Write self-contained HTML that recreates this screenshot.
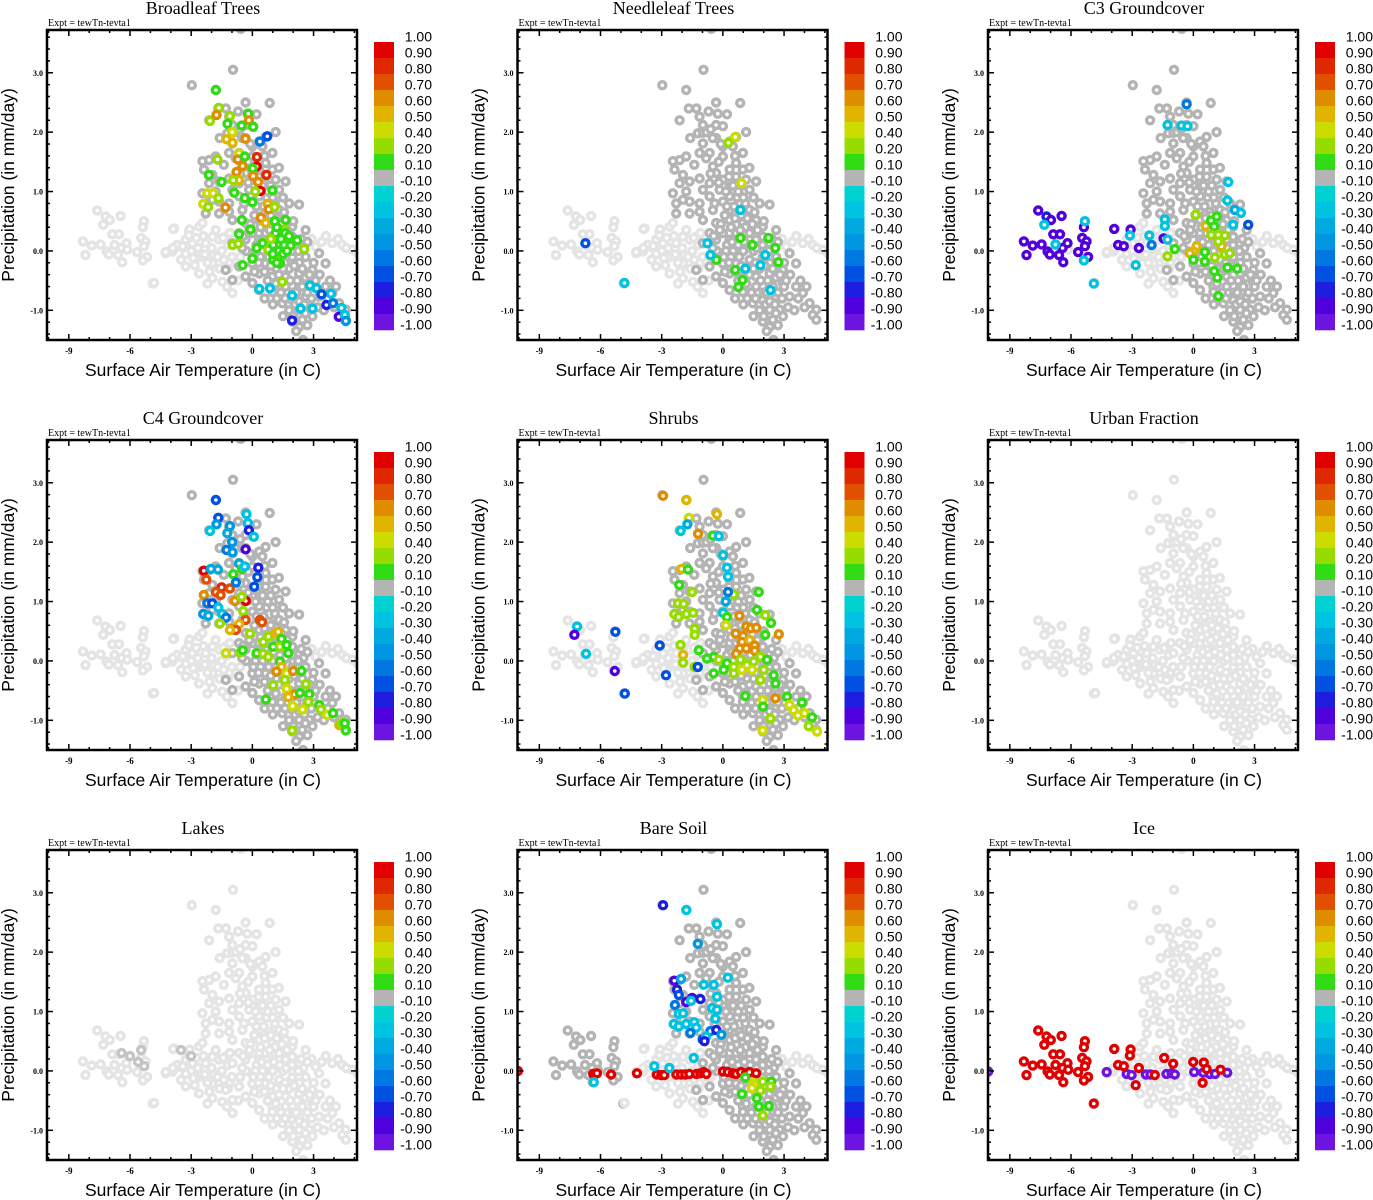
<!DOCTYPE html>
<html><head><meta charset="utf-8"><style>
html,body{margin:0;padding:0;background:#fff;}
svg{display:block;}
</style></head><body>
<svg id="fig" width="1373" height="1200" viewBox="0 0 1373 1200" xmlns="http://www.w3.org/2000/svg"></svg>
<script>
// ---- data (x = surface air temperature C, y = precipitation mm/day, v = correlation) ----
const panelTitles = ["Broadleaf Trees","Needleleaf Trees","C3 Groundcover","C4 Groundcover","Shrubs","Urban Fraction","Lakes","Bare Soil","Ice"];
const xTicks = [-9,-6,-3,0,3];
const yTicks = [-1,0,1,2,3];
const yTickLabels = ["-1.0","0.0","1.0","2.0","3.0"];
const cbLabels = ["1.00","0.90","0.80","0.70","0.60","0.50","0.40","0.20","0.10","-0.10","-0.20","-0.30","-0.40","-0.50","-0.60","-0.70","-0.80","-0.90","-1.00"];
const cbColors = ["#e00000","#e02800","#e05000","#e08c00","#e0b400","#ccdc00","#96dc00","#32dc14","#b4b4b4","#00d2d2","#00c3e1","#00aae1","#0096e1","#0078e1","#0050e1","#1e1ee1","#5000dc","#6e14e1"];

const westCloud = [[-7.61,0.68],[-7.20,0.58],[-6.99,0.52],[-6.46,0.59],[-7.31,0.44],[-6.87,0.28],[-6.54,0.28],[-5.32,0.50],[-5.37,0.40],[-8.31,0.16],[-7.88,0.09],[-7.44,0.11],[-6.76,0.10],[-6.17,0.13],[-7.15,-0.01],[-7.04,-0.06],[-6.41,0.05],[-6.14,0.02],[-6.59,-0.07],[-5.65,-0.02],[-5.45,0.22],[-5.24,0.16],[-5.32,0.08],[-5.16,-0.10],[-5.37,-0.16],[-6.38,-0.19],[-8.18,-0.07],[-4.88,-0.55]];
const armCloud = [[3.10,0.07],[3.92,0.13],[4.41,0.10],[4.90,0.02],[5.15,-0.04],[-1.63,0.19],[-2.29,0.13],[-2.94,0.13],[-3.27,0.19],[-3.59,0.07],[-3.92,-0.01],[-4.25,-0.04],[-3.84,0.38],[-3.10,0.33],[-2.61,0.41],[-2.45,0.47],[-1.96,0.24],[-1.31,0.24],[-2.61,-0.10],[-1.96,-0.21],[-1.47,-0.52],[-1.96,-0.46],[-2.61,-0.38],[-3.27,-0.26],[-4.82,-0.54],[-1.0,-0.1],[-1.5,0.0],[-2.0,0.05],[-2.5,-0.05],[-3.0,0.0],[-1.2,0.1],[3.6,0.25],[4.2,0.2],[-0.98,-0.71],[-3.88,0.37],[-3.08,0.36],[-3.11,0.26],[-3.69,0.10],[-3.41,0.08],[-2.67,0.05],[-2.83,-0.24],[-4.25,-0.02],[-3.27,-0.05],[-2.33,-0.06],[-1.43,0.22],[-1.89,-0.07],[-1.7,-0.1],[-2.2,-0.2],[-2.9,-0.12],[-3.5,-0.15],[-1.2,-0.3],[-0.8,-0.2],[-1.6,-0.3],[-2.4,0.25],[-1.8,0.35],[-1.1,0.3],[-0.6,-0.1],[-2.1,-0.35],[-1.4,-0.15],[-3.9,0.05],[-2.75,0.22],[3.4,0.15],[2.9,0.2],[4.6,0.05],[-1.25,-0.6],[-0.7,-0.5],[-2.2,-0.55]];
const bandCloud = [[-0.57,3.74],[-0.95,3.05],[-2.97,2.79],[-1.80,2.71],[-0.33,2.50],[0.85,2.49],[-1.67,2.40],[-1.14,2.26],[-2.12,2.20],[-0.25,2.31],[-0.33,2.12],[0,2.10],[-0.98,2.12],[-1.23,1.98],[-0.98,1.99],[1.14,2.00],[0.65,1.92],[-0.33,1.90],[0.33,1.84],[0,1.76],[-0.98,1.81],[-1.14,1.65],[-0.65,1.65],[-0.82,1.56],[-1.80,1.59],[-2.12,1.53],[-2.45,1.51],[-2.37,1.37],[-1.96,1.28],[-1.63,1.17],[-1.14,1.22],[-0.49,1.42],[0,1.59],[0.49,1.76],[0.98,1.65],[0.65,1.48],[0.33,1.37],[0.98,1.37],[0,1.20],[-0.33,1.31],[-0.65,1.14],[-0.98,1.03],[-0.16,1.03],[0.33,1.08],[0.65,1.25],[1.14,1.20],[1.63,1.17],[1.31,1.03],[0.82,0.92],[0.33,0.92],[0,0.83],[-0.65,0.92],[-1.14,0.80],[-1.63,0.83],[-1.96,0.86],[-2.29,0.80],[-2.45,0.97],[-2.12,1.14],[-1.80,1.00],[1.80,0.80],[2.29,0.78],[1.31,0.69],[0.82,0.66],[0.33,0.69],[-0.49,0.69],[-1.14,0.66],[-1.63,0.63],[-2.29,0.63],[-0.98,0.52],[-0.33,0.47],[0.33,0.52],[0.98,0.47],[1.63,0.52],[1.96,0.41],[2.61,0.35],[-0.65,0.30],[0,0.30],[0.65,0.30],[1.31,0.30],[1.96,0.24],[-0.33,0.19],[0.33,0.19],[0.98,0.19],[1.63,0.19],[2.29,0.13],[-0.98,0.13],[0,-0.21],[0.65,-0.21],[1.31,-0.15],[1.96,-0.10],[2.61,-0.10],[-0.65,-0.26],[-1.31,-0.32],[0.33,-0.38],[0.98,-0.43],[1.63,-0.43],[2.29,-0.38],[2.94,-0.32],[-0.33,-0.43],[-0.98,-0.49],[0.33,-0.66],[0.98,-0.60],[1.63,-0.60],[2.29,-0.60],[2.94,-0.54],[3.59,-0.60],[3.92,-0.71],[4.25,-0.88],[4.58,-0.99],[4.41,-1.08],[4.58,-1.16],[3.27,-0.77],[2.61,-0.77],[1.96,-0.83],[1.47,-0.88],[2.29,-0.99],[2.78,-0.99],[2.45,-1.16],[1.96,-1.19],[2.29,-1.28],[2.70,-1.25],[2.48,-1.50],[0.98,-0.69],[0,-0.54],[3.59,-0.21],[3.27,-0.04],[0.5,0.0],[1.0,0.0],[1.5,0.0],[2.0,0.0],[2.5,0.05],[0.8,-0.1],[1.2,-0.3],[1.8,-0.3],[2.2,-0.5],[2.6,-0.45],[1.4,-0.7],[1.8,-1.0],[2.1,-0.9],[0.2,0.1],[0.6,0.55],[1.1,0.8],[1.5,0.9],[0.1,0.6],[0.5,1.1],[-0.3,0.0],[2.0,0.5],[2.4,0.2],[3.0,-0.6],[3.3,-0.4],[1.0,-0.9],[0.6,-0.8],[3.7,-0.8],[4.0,-0.95],[2.9,-0.8],[1.3,1.4],[0.9,1.1],[-0.5,1.9],[-0.2,1.5],[0.2,2.3],[-0.7,2.35],[1.6,-0.2],[2.3,-0.2],[0.4,-0.1],[1.1,0.4],[1.7,0.35],[2.7,0.15],[0.1,-0.35],[-0.1,0.45],[1.5,-1.1],[2.0,-0.7],[2.6,-1.05],[3.0,-0.2],[1.2,0.55],[0.7,0.9],
[0.15,0.0],[0.45,0.15],[0.75,0.1],[1.05,0.15],[1.35,0.1],[1.65,0.05],[1.95,0.1],[2.25,0.0],[0.3,-0.2],[0.6,-0.35],[0.9,-0.25],[1.5,-0.3],[2.05,-0.25],[2.45,-0.3],[0.75,-0.5],[1.15,-0.55],[1.3,-0.4],[1.85,-0.5],[2.15,-0.7],[2.45,-0.6],[2.7,-0.7],[1.6,-0.8],[2.3,-0.85],[2.55,-0.9],[1.2,-0.8],[0.4,0.4],[0.85,0.35],[1.45,0.45],[0.2,0.75],[0.55,0.75],[0.9,0.6],[1.55,0.65],[0.15,1.0],[0.75,1.0],[1.0,0.9],[-0.4,0.8],[-0.2,1.15],[0.3,1.25],[-0.6,1.3],[-0.1,1.8],[0.6,1.6],[-0.45,0.25],[-0.15,0.35],[0.05,-0.1],[-0.5,0.05],[3.2,-0.95],[3.5,-1.0],[2.0,-1.1],[2.8,-0.4],[3.1,-0.5],[3.8,-0.5],[4.1,-0.6],[2.95,-1.1],[2.15,-1.35],[-1.4,1.45],[-1.6,1.9],[-0.8,2.0],[-1.3,2.4],[-0.6,2.05]];

const lakesDark = [[-6.41,0.30],[-6.0,0.25],[-5.45,0.35],[-5.6,0.15],[-3.5,0.35],[-3.0,0.25],[-5.3,0.08]];

const broadleafPts = [[-1.79,2.71,0.15],[-1.64,2.41,0.3],[-2.08,2.19,0.3],[-1.76,2.29,0.65],[-1.10,2.27,0.3],[-1.22,2.14,0.15],[-0.99,2.00,0.45],[-1.27,1.88,0.55],[-0.97,1.82,0.55],[-0.20,2.31,0.15],[-0.17,2.20,0.65],[-0.53,2.11,0.15],[0.04,2.09,0.15],[-0.34,1.89,0.65],[0.37,1.84,-0.55],[0.73,1.93,-0.65],[-1.71,1.54,0.3],[-2.13,1.28,0.15],[-1.51,1.16,0.15],[-2.21,0.97,0.45],[-1.92,0.97,0.45],[-2.41,0.79,0.45],[-2.17,0.74,0.3],[-1.66,0.89,0.3],[-1.32,0.73,0.65],[-0.65,1.64,0.45],[-0.71,1.54,0.65],[-0.37,1.59,0.15],[-0.48,1.43,0.65],[-0.78,1.33,0.65],[-0.66,1.19,0.55],[-0.94,1.19,0.3],[-0.89,0.98,0.15],[0.22,1.58,0.85],[0.21,1.42,0.95],[0.69,1.28,0.85],[0.01,1.39,0.15],[0.04,1.26,0.65],[0.28,1.16,0.65],[0.40,1.01,0.95],[0.14,1.00,0.3],[0.98,1.02,0.15],[-0.37,0.89,0.15],[0,0.82,0.15],[0.75,0.79,0.55],[0.80,0.70,0.65],[1.09,0.74,0.3],[-0.52,0.52,0.15],[0.42,0.56,0.65],[0.65,0.47,0.55],[1.31,0.36,0.75],[-0.65,0.28,0.15],[-0.09,0.36,0.15],[-0.97,0.10,0.3],[-0.69,0.12,0.3],[0.21,0.05,0.15],[0.50,0.13,0.15],[0.78,0.02,0.3],[1.02,0.10,0.15],[1.27,-0.04,0.3],[1.56,0.10,0.15],[1.87,0.09,0.15],[2.20,0.18,0.15],[2.54,0.03,0.3],[1.63,0.52,0.15],[1.14,0.30,0.15],[1.56,0.36,0.3],[1.02,-0.15,0.15],[1.35,-0.21,0.15],[0,-0.13,0.15],[-0.48,-0.24,0.15],[1.46,-0.52,0.3],[1.2,0.4,0.15],[1.4,0.2,0.15],[1.1,0.5,0.15],[1.6,0.3,0.15],[1.3,0.0,0.15],[1.0,-0.05,0.15],[1.5,-0.05,0.15],[1.2,-0.2,0.15],[0.9,0.2,0.3],[1.8,0.25,0.15],[1.7,0.0,0.15],[0.34,-0.64,-0.25],[0.86,-0.63,-0.3],[1.95,-0.75,-0.25],[2.82,-0.58,-0.25],[3.15,-0.63,-0.25],[3.85,-0.72,-0.3],[3.39,-0.73,-0.65],[3.63,-0.91,-0.8],[3.96,-0.88,-0.6],[4.37,-0.96,-0.3],[4.24,-1.11,-0.85],[4.53,-1.08,-0.3],[4.58,-1.18,-0.5],[1.95,-1.17,-0.8],[2.36,-0.97,-0.3],[2.95,-0.97,-0.25]];
const needleleafPts = [[-6.74,0.13,-0.65],[-4.83,-0.54,-0.25],[0.61,1.92,0.45],[0.27,1.82,0.3],[0.91,1.14,0.45],[-0.76,0.13,-0.25],[0.86,0.69,-0.25],[-0.32,-0.15,0.15],[0.86,0.22,0.15],[1.45,0.10,0.15],[2.23,0.22,0.15],[2.57,0.05,0.15],[2.72,-0.19,0.15],[0.61,-0.32,0.15],[0.76,-0.61,0.15],[0.96,-0.49,0.15],[-0.61,-0.07,-0.25],[1.84,-0.24,-0.25],[2.08,-0.07,-0.3],[2.33,-0.66,-0.25],[1.1,-0.3,-0.25]];
const c3Pts = [[-7.61,0.68,-0.85],[-7.20,0.58,-0.75],[-6.98,0.52,-0.85],[-6.46,0.59,-0.85],[-8.31,0.16,-0.85],[-7.88,0.09,-0.85],[-7.44,0.11,-0.85],[-6.87,0.28,-0.85],[-6.54,0.28,-0.85],[-6.41,0.05,-0.85],[-6.17,0.13,-0.85],[-7.15,-0.01,-0.85],[-7.04,-0.06,-0.85],[-6.59,-0.07,-0.85],[-8.18,-0.07,-0.85],[-6.38,-0.19,-0.85],[-5.65,-0.02,-0.85],[-5.45,0.22,-0.85],[-5.24,0.16,-0.85],[-5.32,0.08,-0.85],[-5.16,-0.10,-0.85],[-5.37,0.40,-0.85],[-3.88,0.37,-0.85],[-3.08,0.36,-0.85],[-3.69,0.10,-0.85],[-3.41,0.08,-0.85],[-2.67,0.05,-0.85],[-1.46,0.21,-0.85],[-7.31,0.44,-0.25],[-6.76,0.11,-0.25],[-5.32,0.50,-0.25],[-5.37,-0.16,-0.25],[-4.88,-0.55,-0.25],[-3.11,0.26,-0.3],[-2.83,-0.24,-0.3],[-2.16,0.26,-0.3],[-1.40,0.53,-0.3],[-1.40,0.42,-0.3],[-1.27,0.19,-0.25],[-2.05,0.10,-0.55],[-1.27,2.12,-0.3],[-0.58,2.11,-0.3],[-0.29,2.10,-0.25],[-0.33,2.47,-0.55],[1.71,1.16,-0.25],[1.67,0.85,-0.25],[2.03,0.69,-0.35],[2.33,0.64,-0.3],[2.69,0.44,-0.65],[1.95,0.44,-0.25],[0.11,0.61,0.3],[0.60,0.42,0.55],[0.86,0.51,0.15],[1.02,0.41,0.15],[1.14,0.58,0.15],[0.88,0.27,0.3],[1.22,0.27,0.3],[1.54,0.26,0.3],[1.38,0.08,0.55],[0.16,0.08,0.55],[0,-0.01,0.55],[-0.17,-0.04,0.55],[-0.91,0.03,0.15],[-1.27,-0.09,0.3],[0.56,-0.02,0.15],[1.05,-0.11,0.3],[1.54,-0.06,0.3],[1.78,-0.04,0.3],[0.56,-0.18,0.15],[1.02,-0.34,0.15],[1.18,-0.45,0.15],[1.67,-0.28,0.15],[2.15,-0.30,0.15],[1.22,-0.76,0.15],[0,-0.15,0.15],[1.22,0.16,0.3]];
const c4Pts = [[-1.79,2.71,-0.65],[-1.67,2.41,-0.65],[-1.76,2.30,-0.45],[-2.08,2.19,-0.25],[-1.10,2.27,-0.45],[-1.23,2.15,-0.35],[-0.99,2.00,-0.45],[-1.27,1.87,-0.55],[-0.97,1.83,-0.45],[-0.29,2.47,-0.25],[-0.22,2.32,-0.25],[-0.17,2.20,-0.75],[0.07,2.09,-0.25],[-0.33,1.88,-0.85],[-2.38,1.52,0.95],[-2.03,1.55,-0.4],[-1.69,1.54,-0.4],[-2.26,1.37,0.75],[-2.38,1.11,0.65],[-1.51,1.24,0.85],[-1.79,1.16,0.75],[-1.56,1.11,0.75],[-1.10,1.22,0.75],[-2.21,0.97,-0.55],[-1.97,0.97,-0.65],[-2.41,0.79,-0.5],[-2.16,0.76,-0.35],[-1.67,0.90,-0.3],[-1.48,0.79,-0.25],[-1.29,0.73,-0.55],[-1.59,0.63,0.3],[-0.65,1.64,-0.4],[-0.50,1.55,0.15],[-0.94,1.46,0.15],[-0.37,1.59,-0.25],[-0.81,1.32,-0.6],[0.29,1.57,-0.75],[0.24,1.41,-0.7],[0.09,1.25,-0.7],[-0.86,1.01,0.65],[-0.32,1.01,0.95],[-0.53,1.08,0.3],[-0.45,0.84,0.3],[-0.33,0.69,0.75],[-0.65,0.62,0.55],[-1.02,0.54,0.65],[-0.81,0.52,0.75],[0.37,0.69,0.75],[0.47,0.65,0.75],[-0.12,0.46,0.3],[-1.30,0.13,0.45],[-0.61,0.14,0.3],[-0.48,0.18,0.15],[0.53,0.32,0.3],[0.78,0.41,0.3],[1.14,0.46,0.55],[1.27,0.49,0.55],[1.43,0.37,0.15],[1.02,0.24,0.15],[1.35,0.24,0.3],[1.68,0.27,0.15],[1.76,0.13,0.15],[0.20,0.13,0.15],[0.53,0.12,0.3],[0.78,0.07,0.3],[1.35,-0.01,0.15],[1.43,-0.10,0.55],[1.18,-0.18,0.65],[1.68,-0.21,0.45],[2.00,-0.17,0.65],[2.41,-0.17,0.15],[1.59,-0.32,0.3],[1.02,-0.41,0.3],[1.68,-0.47,0.45],[2.08,-0.56,0.65],[1.76,-0.61,0.55],[2.33,-0.54,0.15],[2.62,-0.39,0.3],[2.79,-0.56,0.15],[2.74,-0.69,0.3],[2.46,-0.82,0.45],[1.97,-0.76,0.45],[0.66,-0.65,0.15],[3.28,-0.74,0.15],[3.36,-0.82,0.3],[3.67,-0.91,0.45],[3.96,-0.88,0.15],[1.95,-1.17,0.3],[4.26,-1.08,0.55],[4.37,-1.05,0.3],[4.58,-1.17,0.15],[4.53,-1.05,0.15],[-1.10,0.52,0.55]];
const shrubPts = [[-2.93,2.78,0.65],[-1.79,2.71,0.55],[-1.66,2.41,0.45],[-1.74,2.30,-0.4],[-2.07,2.19,-0.3],[-0.29,2.47,0.55],[-1.22,2.14,0.65],[-0.50,2.11,0.15],[-0.20,2.10,-0.25],[0.01,1.78,-0.25],[0.20,1.57,-0.25],[0.25,1.42,-0.25],[-2.03,1.55,0.55],[-1.71,1.54,0.15],[-2.14,1.28,0.15],[-1.51,1.16,0.3],[0.53,1.12,0.3],[0.25,1.16,-0.55],[0.14,1.00,-0.4],[1.76,1.16,0.15],[-2.20,0.97,0.3],[-1.92,0.96,0.3],[-2.38,0.79,0.3],[-2.17,0.74,0.3],[-1.79,0.79,0.3],[-1.46,0.81,0.3],[0.01,0.81,-0.25],[0.20,0.74,0.15],[0.15,0.60,0.45],[0.81,0.76,0.65],[1.67,0.86,0.15],[2.08,0.77,0.3],[2.36,0.64,0.15],[1.15,0.58,0.65],[1.38,0.55,0.65],[1.64,0.56,0.65],[0.63,0.46,0.65],[0.99,0.42,0.65],[0.94,0.32,0.65],[1.31,0.35,0.55],[1.56,0.26,0.65],[0.83,0.21,0.65],[1.15,0.21,0.65],[0.65,0.12,0.65],[1.56,0.17,0.65],[1.84,0.07,0.3],[2.08,0.44,0.15],[2.74,0.45,0.65],[-1.38,0.54,0.3],[-1.38,0.44,0.3],[-2.08,0.27,0.3],[-1.95,0.10,0.55],[-1.95,-0.03,0.3],[-1.38,-0.10,0.3],[-1.18,0.18,0.15],[-0.78,0.04,0.15],[-0.45,0.07,0.15],[-0.20,0.02,0.3],[0.20,-0.04,0.15],[0.53,-0.10,0.3],[0.86,0.02,0.3],[1.18,-0.07,0.3],[1.51,-0.01,0.3],[2.00,-0.15,0.3],[2.17,0.02,0.15],[-0.45,-0.21,0.15],[0.04,-0.15,0.15],[0.53,-0.21,0.3],[0.94,-0.15,0.45],[1.43,-0.15,0.45],[1.84,-0.32,0.3],[2.49,-0.24,0.15],[2.58,-0.38,0.15],[1.10,-0.59,0.15],[1.95,-0.66,0.45],[2.58,-0.63,0.65],[3.15,-0.60,0.15],[3.27,-0.74,0.45],[3.47,-0.83,0.45],[3.88,-0.70,0.15],[4.00,-0.88,0.45],[3.68,-0.92,0.45],[4.37,-0.95,0.15],[2.33,-0.97,0.3],[4.21,-1.10,0.3],[4.62,-1.19,0.45],[1.95,-1.17,0.45],[1.97,-0.77,0.15],[-7.15,0.58,-0.25],[-7.28,0.44,-0.85],[-6.71,0.12,-0.25],[-5.27,0.49,-0.7],[-5.30,-0.17,-0.85],[-4.81,-0.55,-0.7],[-3.10,0.26,-0.7],[-2.79,-0.24,-0.7],[-1.23,-0.10,-0.65]];
const bareSoilPts = [[-10.05,0.0,0.95],[-6.36,-0.05,0.95],[-6.25,-0.05,0.95],[-6.17,-0.04,0.95],[-5.48,-0.06,0.95],[-4.21,-0.04,0.95],[-3.24,-0.06,0.95],[-3.02,-0.07,0.95],[-2.87,-0.07,0.95],[-2.28,-0.06,0.95],[-2.05,-0.06,0.95],[-1.84,-0.06,0.95],[-1.64,-0.05,0.95],[-1.30,-0.05,0.95],[-1.10,-0.04,0.95],[-0.94,-0.02,0.95],[-0.81,-0.05,0.95],[0.0,-0.01,0.95],[0.24,-0.02,0.95],[0.49,-0.04,0.95],[0.65,-0.05,0.95],[0.89,-0.02,0.95],[1.14,-0.04,0.95],[1.30,-0.02,0.95],[1.63,-0.04,0.95],[-2.93,2.79,-0.8],[-1.79,2.71,-0.25],[-1.23,2.14,-0.5],[-0.29,2.47,-0.25],[-2.38,1.52,-0.85],[-2.05,1.55,-0.35],[-2.25,1.37,-0.75],[-2.16,1.28,-0.65],[-2.35,1.11,-0.6],[-1.51,1.23,-0.85],[-1.80,1.16,-0.85],[-1.56,1.18,-0.25],[-1.10,1.21,-0.75],[-0.94,1.45,-0.3],[-0.45,1.45,-0.3],[-0.29,1.25,-0.3],[-0.53,1.06,-0.25],[-0.29,1.03,-0.3],[-0.37,0.88,-0.3],[-2.16,0.96,-0.3],[-1.95,0.97,-0.3],[-2.41,0.79,-0.25],[-2.16,0.75,-0.3],[-1.80,0.79,-0.25],[-1.40,0.82,-0.3],[-1.31,0.73,-0.3],[-1.59,0.64,-0.55],[-0.61,0.67,-0.6],[-0.32,0.69,-0.75],[-0.99,0.53,-0.65],[-0.82,0.58,-0.3],[-0.90,0.50,-0.75],[-0.07,0.61,-0.45],[0.24,1.57,-0.25],[-1.43,0.22,-0.25],[-3.36,0.08,-0.25],[-2.62,0.05,-0.25],[-6.33,-0.19,-0.25],[1.10,-0.11,0.15],[1.51,-0.20,0.45],[1.55,-0.24,0.45],[1.43,-0.29,0.45],[1.96,-0.18,0.3],[2.37,-0.18,0.15],[2.33,-0.26,0.3],[1.84,-0.33,0.3],[0.94,-0.39,0.15],[1.67,-0.46,0.15],[1.76,-0.60,0.15],[2.25,-0.59,0.15],[1.96,-0.75,0.3]];
const icePts = [[-7.61,0.68,0.95],[-7.20,0.58,0.95],[-6.99,0.52,0.95],[-6.46,0.59,0.95],[-7.31,0.44,0.95],[-6.87,0.28,0.95],[-6.54,0.28,0.95],[-5.32,0.50,0.95],[-5.37,0.40,0.95],[-8.31,0.16,0.95],[-7.88,0.09,0.95],[-7.44,0.11,0.95],[-6.76,0.10,0.95],[-6.17,0.13,0.95],[-7.15,-0.01,0.95],[-7.04,-0.06,0.95],[-6.41,0.05,0.95],[-6.14,0.02,0.95],[-6.59,-0.07,0.95],[-5.65,-0.02,0.95],[-5.45,0.22,0.95],[-5.24,0.16,0.95],[-5.32,0.08,0.95],[-5.16,-0.10,0.95],[-5.37,-0.16,0.95],[-6.38,-0.19,0.95],[-8.18,-0.07,0.95],[-4.88,-0.55,0.95],[-4.25,-0.02,-0.95],[-3.27,-0.05,-0.95],[-3.03,-0.07,-0.95],[-2.33,-0.06,-0.95],[-2.10,-0.06,-0.95],[-1.32,-0.05,-0.95],[-1.07,-0.04,-0.95],[-0.91,-0.06,-0.95],[0.04,-0.02,-0.95],[0.48,-0.03,-0.95],[0.81,-0.05,-0.95],[1.06,-0.05,-0.95],[1.66,-0.03,-0.95],[-10.06,-0.01,-0.95],[-3.88,0.37,0.95],[-3.08,0.36,0.95],[-3.11,0.26,0.95],[-3.69,0.10,0.95],[-3.41,0.08,0.95],[-2.67,0.05,0.95],[-2.83,-0.24,0.95],[-1.43,0.22,0.95],[-0.99,0.12,0.95],[-1.89,-0.07,0.95],[-0.01,0.15,0.95],[0.51,0.14,0.95],[0.65,0.03,0.95],[1.33,0.02,0.95],[0.45,-0.20,0.95]];

// per-panel configuration
const panelPoints = [broadleafPts, needleleafPts, c3Pts, c4Pts, shrubPts, [], [], bareSoilPts, icePts];
const panelDarkBand = [true,true,true,true,true,false,false,true,false];
const panelDarkWest = [false,false,false,false,false,false,false,true,false];

// ---- drawing ----
const NS = "http://www.w3.org/2000/svg";
const svg = document.getElementById('fig');
const XMIN = -10.07, XMAX = 5.13, YMIN = -1.50, YMAX = 3.72, BOX = 310;
function mk(tag, attrs, parent){ const e=document.createElementNS(NS,tag); for(const k in attrs) e.setAttribute(k,attrs[k]); (parent||svg).appendChild(e); return e; }
function colorFor(v){
  const bounds=[0.9,0.8,0.7,0.6,0.5,0.4,0.2,0.1,-0.1,-0.2,-0.3,-0.4,-0.5,-0.6,-0.7,-0.8,-0.9];
  for(let i=0;i<bounds.length;i++){ if(v>=bounds[i]) return cbColors[i]; }
  return cbColors[17];
}

for(let p=0;p<9;p++){
  const col=p%3, row=Math.floor(p/3);
  const L = 47 + col*470.5, T = 30 + row*410;
  const sx = x => L + (x-XMIN)/(XMAX-XMIN)*BOX;
  const sy = y => T + (YMAX-y)/(YMAX-YMIN)*BOX;
  const g = mk('g',{});
  
  

  const title = mk('text',{x:L+156,y:T-16,'text-anchor':'middle','font-family':'"Liberation Serif",serif','font-size':'18'},g);
  title.textContent = panelTitles[p];
  
  
  const ex = mk('text',{x:L+1,y:T-4,'font-family':'"Liberation Serif",serif','font-size':'10'},g);
  ex.textContent = 'Expt = tewTn-tevta1';
  
  

  const cp = mk('clipPath',{id:'clip'+p},g);
  mk('rect',{x:L,y:T,width:BOX,height:BOX},cp);
  const pts = mk('g',{'clip-path':'url(#clip'+p+')'},g);
  
  
  function dot(x,y,c){
    const e = mk('circle',{cx:sx(x).toFixed(1),cy:sy(y).toFixed(1),r:3.5,fill:'#fff',stroke:c,'stroke-width':3.4},pts);
    
    
  }
  const LG='#e4e4e4', DG='#b4b4b4';
  westCloud.forEach(d=>dot(d[0],d[1],panelDarkWest[p]?DG:LG));
  armCloud.forEach(d=>dot(d[0],d[1],LG));
  bandCloud.forEach(d=>dot(d[0],d[1],panelDarkBand[p]?DG:LG));
  if(p===6) lakesDark.forEach(d=>dot(d[0],d[1],'#c4c4c4'));
  panelPoints[p].forEach(d=>dot(d[0],d[1],colorFor(d[2])));

  const box = mk('rect',{x:L,y:T,width:BOX,height:BOX,fill:'none',stroke:'#000','stroke-width':2.5},g);
  
  
  for(let t=-10;t<=5;t++){
    const X=sx(t), major=(t%3===0);
    const len=major?6:3;
    mk('line',{x1:X,y1:T+BOX,x2:X,y2:T+BOX-len,stroke:'#000','stroke-width':1.5},g);
    mk('line',{x1:X,y1:T,x2:X,y2:T+len,stroke:'#000','stroke-width':1.5},g);
  }
  xTicks.forEach(t=>{
    const tl = mk('text',{x:sx(t),y:T+BOX+14,'text-anchor':'middle','font-family':'"Liberation Serif",serif','font-size':'9','font-weight':'bold'},g);
    tl.textContent = String(t);
    
    
  });
  for(let k=-7;k<=18;k++){
    const yv=k*0.2, Y=sy(yv);
    if(Y<T||Y>T+BOX) continue;
    const major = (k%5===0);
    const len=major?6:3;
    mk('line',{x1:L,y1:Y,x2:L+len,y2:Y,stroke:'#000','stroke-width':1.5},g);
    mk('line',{x1:L+BOX,y1:Y,x2:L+BOX-len,y2:Y,stroke:'#000','stroke-width':1.5},g);
  }
  yTicks.forEach((t,i)=>{
    const tl = mk('text',{x:L-4,y:sy(t)+3,'text-anchor':'end','font-family':'"Liberation Serif",serif','font-size':'8','font-weight':'bold'},g);
    tl.textContent = yTickLabels[i];
    
    
  });
  const xt = mk('text',{x:L+156,y:T+BOX+36,'text-anchor':'middle','font-family':'"Liberation Sans",sans-serif','font-size':'17.5'},g);
  xt.textContent='Surface Air Temperature (in C)';
  
  
  const yt = mk('text',{x:0,y:0,'text-anchor':'middle','font-family':'"Liberation Sans",sans-serif','font-size':'17.5',transform:'translate('+(L-33)+','+(T+155)+') rotate(-90)'},g);
  yt.textContent='Precipitation (in mm/day)';
  
  

  const cb = mk('g',{},g);
  
  
  const CX = L+327, CY = T+12;
  cbColors.forEach((c,i)=>{
    const r = mk('rect',{x:CX,y:CY+i*16,width:20,height:16.3,fill:c},cb);
    
    
  });
  cbLabels.forEach((s,i)=>{
    const t = mk('text',{x:CX+58,y:CY+i*16-0.5,'text-anchor':'end','font-family':'"Liberation Sans",sans-serif','font-size':'14'},cb);
    t.textContent=s;
    
    
  });
}
</script>
</body></html>
